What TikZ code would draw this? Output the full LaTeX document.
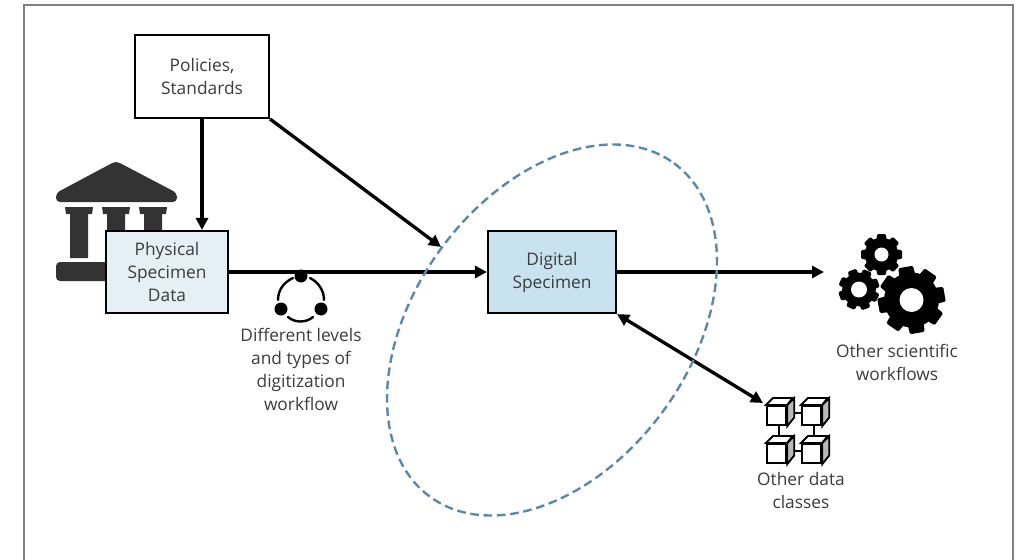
\documentclass[tikz,border=0pt]{standalone}
\usepackage{fontspec}
\setmainfont{Open Sans}
\usetikzlibrary{arrows.meta}
\definecolor{icongray}{HTML}{333333}
\definecolor{labelgray}{HTML}{3C3C3C}
\definecolor{ringblue}{HTML}{5B8AA8}
\definecolor{physfill}{HTML}{E4F0F5}
\definecolor{digifill}{HTML}{C9E2F0}
\tikzset{
  every node/.style={font=\fontsize{13}{17.25}\selectfont, text=labelgray, align=center},
  box/.style={draw=black, line width=1.6pt, inner sep=0pt, minimum width=#1},
  flow/.style={line width=2.5pt, -{Triangle[length=9pt,width=9pt]}},
  dot/.style={circle, fill=black, minimum size=9.75pt, inner sep=0pt},
  arcline/.style={black, line width=1.8pt, line cap=round},
  cubeline/.style={line width=1.4pt},
  cube/.pic={
    \node[draw=black, line width=1.4pt, fill=white, inner sep=0pt, minimum size=14.5pt, anchor=north west] (-f) at (0,0) {};
    \draw[cubeline, fill=white] (-f.north west) -- ++(7,-7) -- ++(19.5,0) -- (-f.north east) -- cycle;
    \draw[cubeline, fill=gray!55] (-f.north east) -- ++(7,-7) -- ++(0,19.5) -- (-f.south east) -- cycle;
  }
}
\newcommand{\gearicon}[5]{
  \foreach \a in {0,45,...,315} {
    \fill[black, rounded corners=1pt, rotate around={\a+#5:(#1,#2)}] (#1-#3*.3,#2) -- (#1-#3*.22,#2-#3) -- (#1+#3*.22,#2-#3) -- (#1+#3*.3,#2) -- cycle;
  }
  \fill[black] (#1,#2) circle [radius=#3*.82];
  \fill[white] (#1,#2) circle [radius=#4];
}
\begin{document}
\begin{tikzpicture}[x=0.75pt,y=-0.75pt]
  \useasboundingbox (0,0) rectangle (1017,560);
  \draw[gray, line width=1.6pt] (24,560) -- (24,5) -- (1013,5) -- (1013,560);

  \fill[icongray, rounded corners=3pt] (116,161) -- (177,193) -- (177,202) -- (56,202) -- (56,193) -- cycle;
  \foreach \cx in {79,116,153} {
    \fill[icongray] (\cx-14,207) -- (\cx+14,207) -- (\cx+13,214) -- (\cx+9,214) -- (\cx+9,258) -- (\cx-9,258) -- (\cx-9,214) -- (\cx-13,214) -- cycle;
  }
  \fill[icongray, rounded corners=3pt] (56,262) rectangle (177,281);

  \node[box=134pt*.75, minimum height=83pt*.75, fill=white] (policies) at (202,76.5) {Policies,\\Standards};
  \node[box=122pt*.75, minimum height=82pt*.75, fill=physfill] (physical) at (167,272) {Physical\\Specimen\\Data};
  \node[box=128pt*.75, minimum height=82pt*.75, fill=digifill] (digital) at (552,272) {Digital\\Specimen};

  \coordinate (ringhit) at (441,247);
  \coordinate (gearsin) at (824,272);
  \coordinate (dataend) at (763,403);

  \draw[flow] (policies.south) -- (policies.south |- physical.north);
  \draw[flow] (policies.south east) -- (ringhit);
  \draw[flow] (physical.east) -- (digital.west);
  \draw[flow] (digital.east) -- (gearsin);
  \draw[line width=2.5pt, {Triangle[length=9pt,width=9pt]}-{Triangle[length=9pt,width=9pt]}] (digital.south east) -- (dataend);

  \draw[ringblue, line width=1.8pt, dash pattern=on 6.5pt off 3.5pt, rotate around={53.8:(552,330)}] (552,330) ellipse [x radius=206.6, y radius=137.6];

  \node[dot] (top) at (301,276) {};
  \node[dot] (left) at (281,309) {};
  \node[dot] (right) at (321,309) {};
  \draw[arcline] (278,300) .. controls (278,290) and (284,282) .. (293,278);
  \draw[arcline] (324,300) .. controls (324,290) and (318,282) .. (310,278);
  \draw[arcline] (288,317) .. controls (295,323) and (306,323) .. (313,317);
  \node (digitize) at (301,369) {Different levels\\and types of\\digitization\\workflow};

  \gearicon{911.5}{300}{33.5}{12}{10}
  \gearicon{881.5}{254.5}{20.5}{7}{0}
  \gearicon{859}{289.5}{20.5}{8}{20}
  \node (workflowtext) at (897,362) {Other scientific\\workflows};

  \pic (c1) at (766,405) {cube};
  \pic (c2) at (801,405) {cube};
  \pic (c3) at (766,443) {cube};
  \pic (c4) at (801,443) {cube};
  \draw[cubeline] ([xshift=5pt,yshift=2pt]c1-f.east) -- ([yshift=2pt]c2-f.west);
  \draw[cubeline] ([xshift=5pt,yshift=2pt]c3-f.east) -- ([yshift=2pt]c4-f.west);
  \draw[cubeline] ([xshift=2pt]c1-f.south) -- ([xshift=2pt,yshift=4.5pt]c3-f.north);
  \draw[cubeline] ([xshift=2pt]c2-f.south) -- ([xshift=2pt,yshift=4.5pt]c4-f.north);
  \node (datatext) at (801,490) {Other data\\classes};
\end{tikzpicture}
\end{document}
